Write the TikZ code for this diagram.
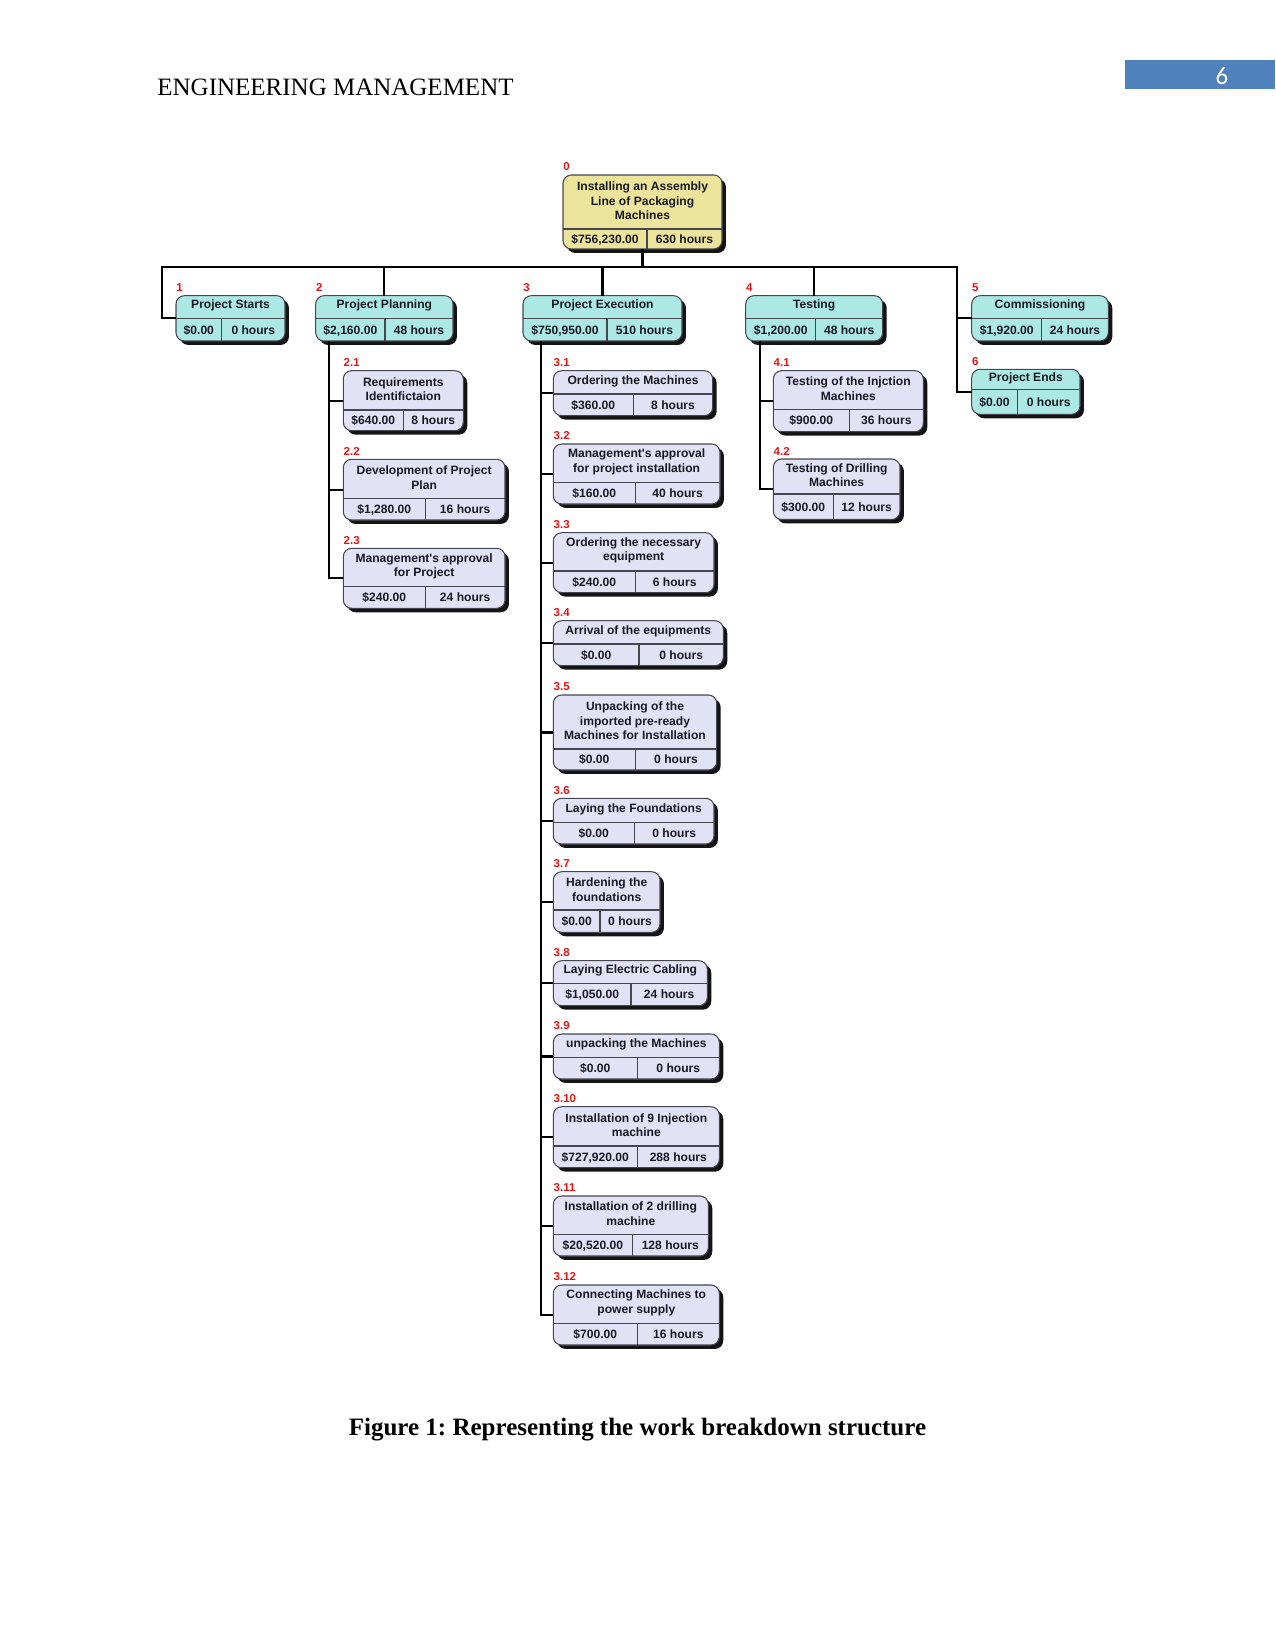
\documentclass[tikz,border=0pt]{standalone}
\usepackage{fontspec}
\setmainfont{Liberation Serif}
\setsansfont{Liberation Sans}[Ligatures=TeXOff]
\newfontfamily\pgnumfont{Carlito}
\usetikzlibrary{fit,shadows}

\definecolor{lvroot}{RGB}{237,228,155}
\definecolor{lvone}{RGB}{172,232,228}
\definecolor{lvtwo}{RGB}{226,226,246}
\definecolor{bordercol}{RGB}{70,70,80}
\definecolor{txt}{RGB}{25,25,35}
\definecolor{labred}{RGB}{225,20,20}
\definecolor{pagecol}{RGB}{79,129,189}

\newcommand\boxfont{\sffamily\bfseries\fontsize{5.8}{7}\selectfont}
\newcommand\labfont{\sffamily\bfseries\fontsize{5.5}{6}\selectfont}

\newcommand\wbsbox[9]{\def\bName{#1}\def\bFill{#2}\def\bL{#3}\def\bT{#4}\def\bR{#5}\def\bB{#6}\def\bD{#7}\def\bV{#8}\def\bTitle{#9}}
\newcommand\wbsdata[3]{%
  \node[wbs, fill=\bFill, fit={(\bL,\bT) (\bR,\bB)}] (\bName) {};
  \draw[divline] (\bL,\bD) -- (\bR,\bD) (\bV,\bD) -- (\bV,\bB);
  \node[wbstext, align=center] (\bName-t) at ({(\bL+\bR)/2},{(\bT+\bD)/2-1.3}) {\bTitle};
  \node[wbscell] (\bName-c) at ({(\bL+\bV)/2},{(\bD+\bB)/2}) {#2};
  \node[wbscell] (\bName-h) at ({(\bV+\bR)/2},{(\bD+\bB)/2}) {#3};
  \node[wbslabel] (\bName-l) at (\bL,{\bT-8}) {#1};
}

\begin{document}
\begin{tikzpicture}[x=0.48pt,y=-0.48pt,
  wbs/.style={draw=bordercol, line width=0.5pt, rounded corners=4pt, inner sep=0pt, outer sep=0pt,
    drop shadow={shadow xshift=1.9pt, shadow yshift=-1.9pt, fill=black, opacity=0.92}},
  divline/.style={draw=bordercol, line width=0.5pt},
  wbstext/.style={inner sep=0pt, font=\boxfont, text=txt},
  wbscell/.style={wbstext, text height=4.2pt, text depth=0pt},
  wbslabel/.style={inner sep=0pt, anchor=west, font=\labfont, text=labred},
  conn/.style={line width=1pt, draw=black}]

\path[use as bounding box] (0,0) rectangle (1275,1650);

% header
\node[anchor=base west, inner sep=0pt, font=\rmfamily\fontsize{12}{14}\selectfont] (hdr) at (157,96) {ENGINEERING MANAGEMENT};
\node[fill=pagecol, inner sep=0pt, fit={(1125,60) (1275,89)}] (pgbox) {};
\node[inner sep=0pt, text=white, font=\pgnumfont\fontsize{12}{14}\selectfont] (pnum) at (1222,76) {6};

% root
\wbsbox{n0}{lvroot}{563}{175}{722}{249}{229}{647}{Installing an Assembly\\Line of Packaging\\Machines}
\wbsdata{0}{\$756,230.00}{630 hours}

% level 1
\wbsbox{n1}{lvone}{176}{295.7}{285}{341}{318.5}{221.7}{Project Starts}
\wbsdata{1}{\$0.00}{0 hours}
\wbsbox{n2}{lvone}{315.7}{295.7}{453}{341}{318.5}{385}{Project Planning}
\wbsdata{2}{\$2,160.00}{48 hours}
\wbsbox{n3}{lvone}{523}{295.7}{682}{341}{318.5}{607}{Project Execution}
\wbsdata{3}{\$750,950.00}{510 hours}
\wbsbox{n4}{lvone}{745.7}{295.7}{882.7}{341}{318.5}{815.7}{Testing}
\wbsdata{4}{\$1,200.00}{48 hours}
\wbsbox{n5}{lvone}{971.7}{295.7}{1108.3}{341}{318.5}{1041.7}{Commissioning}
\wbsdata{5}{\$1,920.00}{24 hours}
\wbsbox{n6}{lvone}{971.7}{369.3}{1080}{414.3}{389.5}{1017.3}{Project Ends}
\wbsdata{6}{\$0.00}{0 hours}

% level 2 under 2
\wbsbox{n21}{lvtwo}{343.3}{370.7}{463.3}{430.7}{410}{403.3}{Requirements\\Identifictaion}
\wbsdata{2.1}{\$640.00}{8 hours}
\wbsbox{n22}{lvtwo}{343.3}{459.3}{505}{520}{498.3}{425.3}{Development of Project\\Plan}
\wbsdata{2.2}{\$1,280.00}{16 hours}
\wbsbox{n23}{lvtwo}{343.3}{548.3}{505}{608.3}{586.7}{425.3}{Management's approval\\for Project}
\wbsdata{2.3}{\$240.00}{24 hours}

% level 2 under 3
\wbsbox{n31}{lvtwo}{553.3}{370.7}{712.7}{415.7}{394}{633.3}{Ordering the Machines}
\wbsdata{3.1}{\$360.00}{8 hours}
\wbsbox{n32}{lvtwo}{553.3}{444}{720}{504}{482.3}{635.3}{Management's approval\\for project installation}
\wbsdata{3.2}{\$160.00}{40 hours}
\wbsbox{n33}{lvtwo}{553.3}{532.7}{714}{592.7}{571}{635.3}{Ordering the necessary\\equipment}
\wbsdata{3.3}{\$240.00}{6 hours}
\wbsbox{n34}{lvtwo}{553.3}{620.7}{723.3}{665.7}{644}{639}{Arrival of the equipments}
\wbsdata{3.4}{\$0.00}{0 hours}
\wbsbox{n35}{lvtwo}{553.3}{695}{716.7}{770}{749}{635.3}{Unpacking of the\\imported pre-ready\\Machines for Installation}
\wbsdata{3.5}{\$0.00}{0 hours}
\wbsbox{n36}{lvtwo}{553.3}{798.3}{714}{844}{822.3}{634.3}{Laying the Foundations}
\wbsdata{3.6}{\$0.00}{0 hours}
\wbsbox{n37}{lvtwo}{553.3}{871.7}{660}{932.3}{910}{600}{Hardening the\\foundations}
\wbsdata{3.7}{\$0.00}{0 hours}
\wbsbox{n38}{lvtwo}{553.3}{960.7}{707.3}{1005.7}{983.3}{631}{Laying Electric Cabling}
\wbsdata{3.8}{\$1,050.00}{24 hours}
\wbsbox{n39}{lvtwo}{553.3}{1034}{719.3}{1079}{1057.3}{637.3}{unpacking the Machines}
\wbsdata{3.9}{\$0.00}{0 hours}
\wbsbox{n310}{lvtwo}{553.3}{1106.7}{719.3}{1167.7}{1146}{637.3}{Installation of 9 Injection\\machine}
\wbsdata{3.10}{\$727,920.00}{288 hours}
\wbsbox{n311}{lvtwo}{553.3}{1196}{708.3}{1256}{1234.3}{632.3}{Installation of 2 drilling\\machine}
\wbsdata{3.11}{\$20,520.00}{128 hours}
\wbsbox{n312}{lvtwo}{553.3}{1285}{719.3}{1345}{1323.3}{637.3}{Connecting Machines to\\power supply}
\wbsdata{3.12}{\$700.00}{16 hours}

% level 2 under 4
\wbsbox{n41}{lvtwo}{773.3}{370.7}{923.3}{431.7}{409.3}{849.3}{Testing of the Injction\\Machines}
\wbsdata{4.1}{\$900.00}{36 hours}
\wbsbox{n42}{lvtwo}{773.3}{459}{900}{519.5}{494}{833.3}{Testing of Drilling\\Machines}
\wbsdata{4.2}{\$300.00}{12 hours}

% connectors
\coordinate (busL) at (161.7,267);
\coordinate (busR) at (957.3,267);
\draw[conn] (n0.south) -- (n0.south |- busL);
\draw[conn] (n1.west) -| (busL) -- (busR) |- (n6.west);
\draw[conn] (busR |- n5.west) -- (n5.west);
\draw[conn] (n2.north) -- (n2.north |- busL);
\draw[conn] (n3.north) -- (n3.north |- busL);
\draw[conn] (n4.north) -- (n4.north |- busL);

\coordinate (s2) at (329.3,341);
\draw[conn] (s2) |- (n23.west);
\foreach \c in {n21,n22} \draw[conn] (s2 |- \c.west) -- (\c.west);

\coordinate (s3) at (540.7,341);
\draw[conn] (s3) |- (n312.west);
\foreach \c in {n31,n32,n33,n34,n35,n36,n37,n38,n39,n310,n311} \draw[conn] (s3 |- \c.west) -- (\c.west);

\coordinate (s4) at (760,341);
\draw[conn] (s4) |- (n42.west);
\draw[conn] (s4 |- n41.west) -- (n41.west);

% caption
\node[anchor=base, inner sep=0pt, font=\rmfamily\bfseries\fontsize{12}{14}\selectfont] (cap) at (637.5,1435) {\frenchspacing Figure 1: Representing the work breakdown structure};
\end{tikzpicture}
\end{document}
